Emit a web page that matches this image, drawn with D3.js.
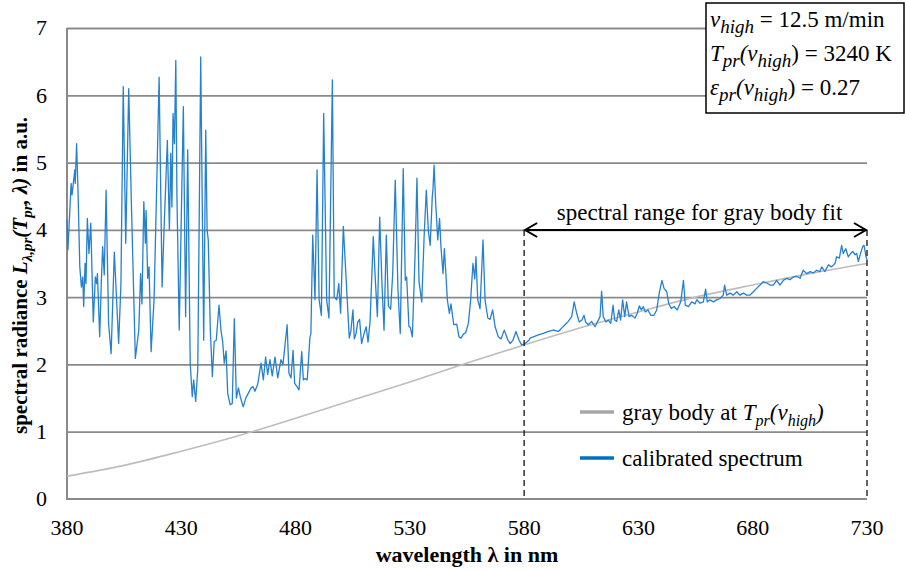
<!DOCTYPE html>
<html>
<head>
<meta charset="utf-8">
<script src="https://cdn.jsdelivr.net/npm/d3@7"></script>
<style>
  body { margin: 0; background: #fff; }
  svg { display: block; font-family: "Liberation Serif", "Times New Roman", serif; }
</style>
</head>
<body>
<svg id="chart"></svg>
<script>
// calibrated spectrum (wavelength in nm, radiance in a.u.)
const specWl = [380.0,380.4,381.8,382.2,383.4,383.6,384.2,384.8,385.6,386.3,386.9,387.3,387.9,388.3,388.9,389.6,390.4,391.5,392.4,393.0,393.3,394.3,395.0,395.6,396.3,397.1,398.2,399.3,400.7,402.6,403.6,404.6,405.7,407.0,408.1,409.9,411.4,412.2,412.8,413.6,414.3,414.6,415.3,415.9,416.8,418.1,419.2,420.3,421.6,422.4,423.9,424.8,425.4,425.9,426.4,427.0,427.6,428.1,429.1,
  429.9,430.9,431.9,432.8,433.9,434.8,435.4,436.3,437.2,437.8,438.5,439.8,440.7,441.3,441.8,442.7,443.6,444.4,445.3,446.5,447.4,448.1,448.8,449.6,450.3,451.4,452.3,453.2,454.1,455.0,455.8,457.1,458.2,459.3,460.5,461.4,462.2,463.4,464.9,465.9,466.9,467.8,468.8,469.8,471.0,472.2,473.6,474.5,476.3,477.1,478.0,478.9,
  479.6,480.6,481.5,482.7,483.4,484.1,485.1,486.3,486.7,487.5,488.5,489.4,490.3,491.3,492.3,493.6,494.6,496.1,496.9,498.0,498.9,499.7,500.9,502.6,503.5,504.2,505.1,505.7,506.4,507.2,508.0,508.9,509.9,510.9,511.7,512.6,514.0,514.9,515.8,516.8,517.8,518.7,519.7,520.6,521.6,522.5,523.6,524.8,525.8,527.1,528.0,528.6,529.6,
  530.2,531.1,532.3,533.1,534.0,535.2,536.3,537.2,538.1,538.9,539.8,540.1,540.6,541.3,542.2,543.0,543.6,544.5,545.1,545.7,546.4,547.3,548.0,549.2,550.5,551.5,552.4,553.4,554.4,555.6,556.6,557.6,558.4,558.9,559.7,560.7,562.0,562.9,564.1,565.1,566.2,567.3,568.7,569.9,571.3,572.8,573.9,575.1,576.4,577.8,578.9,580.4,582.1,
  582.6,584.0,586.2,588.4,590.6,592.8,595.0,596.4,597.9,599.3,600.8,601.9,603.0,604.1,605.3,606.2,606.9,608.1,609.5,611.0,612.2,613.2,613.9,614.6,615.8,616.8,617.9,618.9,619.6,620.5,621.4,622.2,623.1,624.0,624.8,625.9,627.0,628.5,629.5,630.4,631.3,632.1,633.0,634.2,635.4,636.8,638.0,639.1,640.3,641.2,642.4,643.2,644.4,645.6,647.0,648.5,649.7,650.5,651.9,653.3,
  654.8,655.5,657.0,658.4,659.4,660.1,661.3,662.8,664.2,665.7,667.1,667.7,668.6,670.1,671.5,673.0,674.4,675.9,677.4,678.8,680.3,681.7,683.2,684.6,686.1,687.6,689.0,690.5,691.9,693.4,694.9,696.3,697.8,699.2,700.7,702.1,703.6,705.1,706.5,708.0,709.4,710.2,711.6,713.1,714.5,716.0,716.7,717.9,718.9,719.6,720.7,721.8,722.9,723.7,724.8,725.5,726.2,727.2,728.1,728.7,729.6,730.0];
const specL = [4.15,3.70,4.69,4.52,4.89,4.69,5.28,4.60,3.45,3.15,3.30,2.86,3.50,3.20,4.17,3.65,4.10,2.63,3.30,3.20,3.35,2.41,3.20,3.75,3.33,4.59,2.61,2.16,3.67,2.31,3.20,6.13,3.80,6.10,4.49,2.09,2.51,3.35,2.90,4.42,3.80,4.29,3.28,3.45,2.19,2.97,4.59,6.27,3.15,3.95,5.33,4.00,5.14,4.34,5.73,5.28,6.52,4.50,2.51,
  4.00,5.83,2.71,5.19,2.02,1.52,1.77,1.45,1.92,4.00,6.57,2.36,5.48,4.00,3.85,2.51,1.82,2.34,2.36,2.88,2.50,2.34,2.02,2.20,1.57,1.40,1.42,2.68,1.50,1.65,1.52,1.37,1.50,1.57,1.65,1.67,1.60,1.70,2.02,1.77,2.11,1.85,2.07,1.83,2.11,1.80,2.07,2.00,2.59,1.87,1.80,2.21,
  1.72,1.67,1.62,2.19,1.77,1.79,1.77,2.41,2.45,3.92,2.96,4.89,2.96,2.73,5.73,2.96,2.69,6.23,3.00,2.96,3.20,2.76,4.05,2.96,2.39,2.50,2.81,2.38,2.45,2.63,2.67,2.31,2.45,2.56,2.33,2.64,3.90,3.25,2.71,4.19,3.20,2.51,3.92,2.87,2.82,3.35,4.74,3.10,2.46,4.91,3.25,3.30,2.56,
  2.55,2.41,3.65,4.77,3.23,2.93,3.95,4.59,3.98,3.77,4.49,4.60,4.96,4.40,3.85,4.17,3.75,3.35,3.72,3.38,2.96,2.76,2.90,2.59,2.60,2.41,2.39,2.45,2.47,2.61,2.96,3.50,3.27,3.60,2.96,2.83,3.85,2.96,2.69,2.67,2.81,2.56,2.41,2.38,2.51,2.37,2.31,2.36,2.49,2.36,2.29,2.31,2.36,
  2.39,2.41,2.44,2.46,2.49,2.51,2.49,2.54,2.59,2.64,2.71,2.93,2.76,2.63,2.66,2.73,2.63,2.59,2.64,2.56,2.64,2.71,3.09,2.71,2.63,2.66,2.61,2.88,2.66,2.64,2.81,2.66,2.96,2.71,2.93,2.71,2.73,2.69,2.76,2.87,2.81,2.86,2.78,2.81,2.73,2.73,2.81,3.06,3.25,3.13,3.08,2.91,2.83,2.86,2.81,2.93,3.25,2.88,2.86,2.93,
  2.90,2.96,2.91,2.93,3.12,2.93,2.96,2.93,2.96,2.98,3.03,3.18,3.03,3.06,3.03,3.08,3.03,3.06,3.03,3.03,3.08,3.13,3.18,3.23,3.21,3.18,3.18,3.25,3.18,3.25,3.28,3.26,3.30,3.31,3.28,3.40,3.35,3.38,3.36,3.40,3.38,3.45,3.38,3.48,3.45,3.50,3.60,3.58,3.77,3.65,3.72,3.60,3.65,3.68,3.63,3.65,3.53,3.65,3.75,3.77,3.60,3.55];

// gray body curve
const grayWl = [380, 405, 430, 455, 480, 505, 530, 555, 580, 605, 630, 655, 680, 705, 730];
const grayL  = [0.34, 0.50, 0.71, 0.94, 1.20, 1.47, 1.74, 2.02, 2.29, 2.55, 2.78, 3.00, 3.18, 3.35, 3.50];

const xTicks = [380, 430, 480, 530, 580, 630, 680, 730];
const yTicks = [0, 1, 2, 3, 4, 5, 6, 7];
const fitRange = [580, 730];

const width = 905, height = 571;
const margin = {top: 28, right: 38, bottom: 72, left: 67};

const svg = d3.select("#chart").attr("width", width).attr("height", height);

const x = d3.scaleLinear().domain([380, 730]).range([margin.left, width - margin.right]);
const y = d3.scaleLinear().domain([0, 7]).range([height - margin.bottom, margin.top]);

const gridColor = "#8a8a8a";

// horizontal gridlines
svg.append("g")
  .attr("transform", `translate(${margin.left},0)`)
  .call(d3.axisLeft(y).tickValues(yTicks.slice(1)).tickSize(-(x(730) - x(380))).tickFormat(""))
  .call(g => g.select(".domain").remove())
  .selectAll("line").attr("stroke", gridColor).attr("stroke-width", 1.8);

// y tick labels
svg.selectAll("text.ylab")
  .data(yTicks)
  .enter().append("text")
  .attr("class", "ylab")
  .attr("x", margin.left - 20)
  .attr("y", d => y(d))
  .attr("dy", "0.34em")
  .attr("text-anchor", "end")
  .style("font-size", "22px")
  .text(d => d);

// x tick labels
svg.selectAll("text.xlab")
  .data(xTicks)
  .enter().append("text")
  .attr("class", "xlab")
  .attr("x", d => x(d))
  .attr("y", y(0) + 36)
  .attr("text-anchor", "middle")
  .style("font-size", "22px")
  .text(d => d);

// axis lines
svg.append("line")
  .attr("x1", x(380)).attr("x2", x(730)).attr("y1", y(0)).attr("y2", y(0))
  .attr("stroke", gridColor).attr("stroke-width", 2);
svg.append("line")
  .attr("x1", x(380)).attr("x2", x(380)).attr("y1", y(0) + 1).attr("y2", y(7))
  .attr("stroke", gridColor).attr("stroke-width", 2);

// gray body
const grayData = grayWl.map((w, i) => [w, grayL[i]]);
svg.append("path")
  .datum(grayData)
  .attr("fill", "none")
  .attr("stroke", "#bdbdbd")
  .attr("stroke-width", 1.6)
  .attr("d", d3.line().x(d => x(d[0])).y(d => y(d[1])).curve(d3.curveMonotoneX));

// calibrated spectrum
const specData = specWl.map((w, i) => [w, specL[i]]);
svg.append("path")
  .datum(specData)
  .attr("fill", "none")
  .attr("stroke", "#2580cf")
  .attr("stroke-width", 1.3)
  .attr("stroke-linejoin", "round")
  .attr("d", d3.line().x(d => x(d[0])).y(d => y(d[1])));

// fit range: dashed verticals and double arrow
const arrowY = 230;
svg.selectAll("line.fitedge")
  .data(fitRange)
  .enter().append("line")
  .attr("class", "fitedge")
  .attr("x1", d => x(d)).attr("x2", d => x(d))
  .attr("y1", arrowY).attr("y2", y(0))
  .attr("stroke", "#222").attr("stroke-width", 1.4)
  .attr("stroke-dasharray", "6,4");

svg.append("line")
  .attr("x1", x(fitRange[0]) + 1).attr("x2", x(fitRange[1]) - 1)
  .attr("y1", arrowY).attr("y2", arrowY)
  .attr("stroke", "#000").attr("stroke-width", 2);
const head = 13, spread = 7;
svg.append("path")
  .attr("d", `M${x(fitRange[0]) + head},${arrowY - spread}L${x(fitRange[0]) + 1},${arrowY}L${x(fitRange[0]) + head},${arrowY + spread}`)
  .attr("fill", "none").attr("stroke", "#000").attr("stroke-width", 2);
svg.append("path")
  .attr("d", `M${x(fitRange[1]) - head},${arrowY - spread}L${x(fitRange[1]) - 1},${arrowY}L${x(fitRange[1]) - head},${arrowY + spread}`)
  .attr("fill", "none").attr("stroke", "#000").attr("stroke-width", 2);
svg.append("text")
  .attr("x", (x(fitRange[0]) + x(fitRange[1])) / 2 + 4)
  .attr("y", arrowY - 10)
  .attr("text-anchor", "middle")
  .style("font-size", "23px")
  .text("spectral range for gray body fit");

// rich text helper: segments {t, it, sub}
function rich(sel, parts, size, subSize) {
  let lowered = false;
  parts.forEach(p => {
    const ts = sel.append("tspan").text(p.t);
    if (p.it) ts.style("font-style", "italic");
    if (p.sub) {
      ts.style("font-size", subSize + "px");
      if (!lowered) { ts.attr("dy", size * 0.25); lowered = true; }
    } else if (lowered) {
      ts.attr("dy", -size * 0.25); lowered = false;
    }
  });
  return sel;
}

// legend
const legend = [
  {color: "#a6a6a6", y: 412, parts: [{t: "gray body at "}, {t: "T", it: true}, {t: "pr", it: true, sub: true}, {t: "(v", it: true}, {t: "high", it: true, sub: true}, {t: ")", it: true}]},
  {color: "#0070c0", y: 458, parts: [{t: "calibrated spectrum"}]}
];
legend.forEach(l => {
  svg.append("line")
    .attr("x1", 580).attr("x2", 614).attr("y1", l.y).attr("y2", l.y)
    .attr("stroke", l.color).attr("stroke-width", 3.5);
  const t = svg.append("text").attr("x", 622).attr("y", l.y + 8).style("font-size", "23px");
  rich(t, l.parts, 23, 16);
});

// parameter box
svg.append("rect")
  .attr("x", 706).attr("y", 3).attr("width", 198).attr("height", 110)
  .attr("fill", "#fff").attr("stroke", "#000").attr("stroke-width", 1.5);
const boxLines = [
  [{t: "v", it: true}, {t: "high", it: true, sub: true}, {t: " = 12.5 m/min"}],
  [{t: "T", it: true}, {t: "pr", it: true, sub: true}, {t: "(v", it: true}, {t: "high", it: true, sub: true}, {t: ") = 3240 K"}],
  [{t: "ε", it: true}, {t: "pr", it: true, sub: true}, {t: "(v", it: true}, {t: "high", it: true, sub: true}, {t: ") = 0.27"}]
];
boxLines.forEach((parts, i) => {
  const t = svg.append("text").attr("x", 710).attr("y", 27 + i * 34).style("font-size", "23px");
  rich(t, parts, 23, 19);
});

// axis titles
svg.append("text")
  .attr("x", (x(380) + x(730)) / 2)
  .attr("y", 562)
  .attr("text-anchor", "middle")
  .style("font-size", "22px").style("font-weight", "bold")
  .text("wavelength λ in nm");

const yt = svg.append("text")
  .attr("transform", "translate(27,434) rotate(-90)")
  .attr("text-anchor", "start")
  .style("font-size", "21px").style("font-weight", "bold");
rich(yt, [
  {t: "spectral radiance "}, {t: "L", it: true}, {t: "λ,pr", it: true, sub: true},
  {t: "(T", it: true}, {t: "pr", it: true, sub: true}, {t: ", λ)", it: true}, {t: " in a.u."}
], 21, 15);
</script>
</body>
</html>
